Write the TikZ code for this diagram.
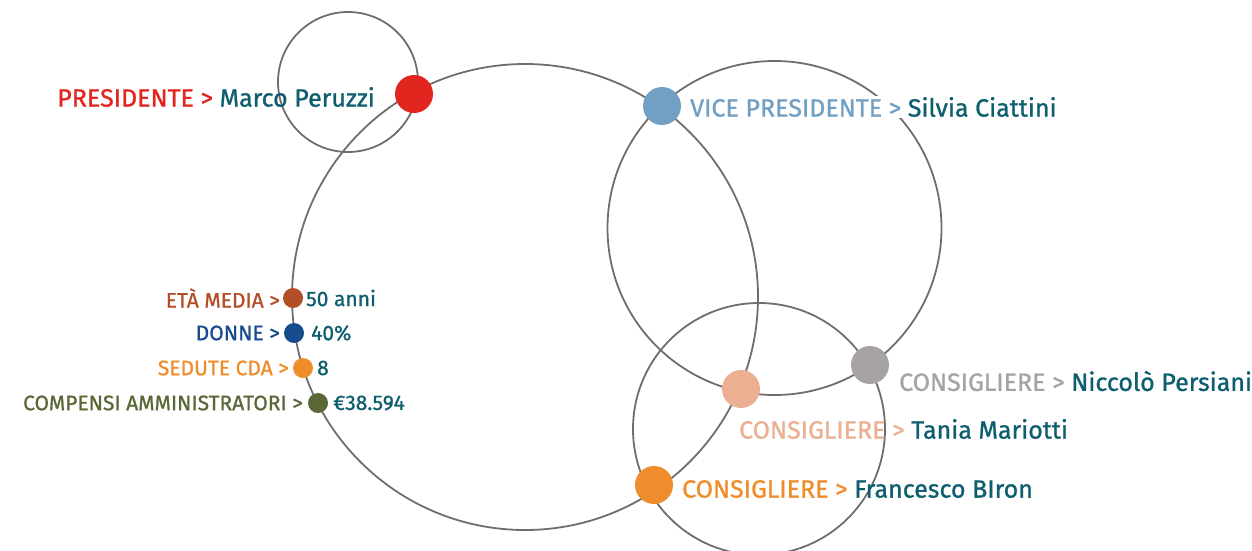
\documentclass[tikz,border=0pt]{standalone}
\usepackage{fontspec}
\setmainfont{Fira Sans}[FakeBold=1.0]
\definecolor{cline}{RGB}{110,110,110}
\definecolor{cred}{RGB}{224,38,31}
\definecolor{cteal}{RGB}{14,94,111}
\definecolor{cvp}{RGB}{114,160,196}
\definecolor{cgray}{RGB}{168,163,163}
\definecolor{csalmon}{RGB}{235,175,145}
\definecolor{corange}{RGB}{239,141,44}
\definecolor{cbrown}{RGB}{178,78,40}
\definecolor{cblue}{RGB}{22,75,140}
\definecolor{colive}{RGB}{90,104,56}
\tikzset{
  ring/.style={draw=cline,line width=1.8pt},
  bigdot/.style={circle,inner sep=0pt,minimum size=38pt},
  smalldot/.style={circle,inner sep=0pt,minimum size=20pt},
  biglabel/.style={inner sep=1pt,font=\fontsize{25}{28}\selectfont},
  smalllabel/.style={inner sep=1pt,font=\fontsize{21}{24}\selectfont},
}
\begin{document}
\begin{tikzpicture}[x=1pt,y=-1pt]
\useasboundingbox (0,0) rectangle (1252,550);
% circles
\draw[ring] (348,82) circle[radius=70pt];
\draw[ring] (525,297) circle[radius=233pt];
\draw[ring] (774.5,228) circle[radius=167pt];
\draw[ring] (759,429) circle[radius=126pt];
% big dots
\node[bigdot,fill=cred] (pres) at (414,94) {};
\node[bigdot,fill=cvp] (vp) at (662,106) {};
\node[bigdot,fill=cgray] (c1) at (870,365) {};
\node[bigdot,fill=csalmon] (c2) at (741,389) {};
\node[bigdot,fill=corange] (c3) at (654,485) {};
% small dots
\node[smalldot,fill=cbrown] (eta) at (293,298) {};
\node[smalldot,fill=cblue] (donne) at (294,333) {};
\node[smalldot,fill=corange] (sed) at (303,368) {};
\node[smalldot,fill=colive] (comp) at (318,403) {};
% big labels
\node[biglabel,anchor=east] (presl) at (376,97) {\textcolor{cred}{PRESIDENTE >} \textcolor{cteal}{Marco Peruzzi}};
\node[biglabel,anchor=west,fill=white] (vpl) at (689,107) {\textcolor{cvp}{VICE PRESIDENTE >} \textcolor{cteal}{Silvia Ciattini}};
\node[biglabel,anchor=west] (c1l) at (898,381) {\textcolor{cgray}{CONSIGLIERE >} \textcolor{cteal}{Niccolò Persiani}};
\node[biglabel,anchor=west] (c2l) at (738,429) {\textcolor{csalmon}{CONSIGLIERE >} \textcolor{cteal}{Tania Mariotti}};
\node[biglabel,anchor=west] (c3l) at (681,489) {\textcolor{corange}{CONSIGLIERE >} \textcolor{cteal}{Francesco BIron}};
% small labels
\node[smalllabel,anchor=east,text=cbrown] (etal) at (281,298) {ETÀ MEDIA >};
\node[smalllabel,anchor=west,text=cteal] (etav) at (305,298) {50 anni};
\node[smalllabel,anchor=east,text=cblue] (donnel) at (281,333) {DONNE >};
\node[smalllabel,anchor=west,text=cteal] (donnev) at (310,333) {40\%};
\node[smalllabel,anchor=east,text=corange] (sedl) at (290,368) {SEDUTE CDA >};
\node[smalllabel,anchor=west,text=cteal] (sedv) at (316,368) {8};
\node[smalllabel,anchor=east,text=colive] (compl) at (304,403) {COMPENSI AMMINISTRATORI >};
\node[smalllabel,anchor=west,text=cteal] (compv) at (332,403) {€38.594};
\end{tikzpicture}
\end{document}
